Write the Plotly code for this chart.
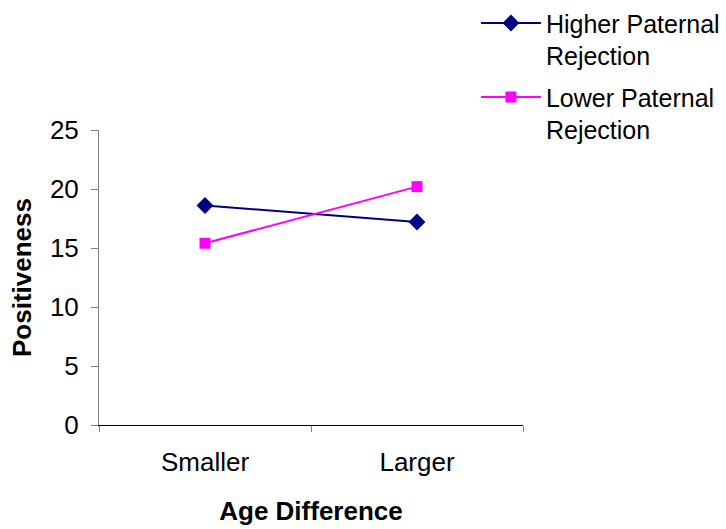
import plotly.graph_objects as go

categories = ["Smaller", "Larger"]
higher_values = [18.6, 17.2]
lower_values = [15.4, 20.2]
series_names = ["Higher Paternal<br>Rejection", "Lower Paternal<br>Rejection"]
y_ticks = [0, 5, 10, 15, 20, 25]

FONT = "Liberation Sans, Arial, sans-serif"

fig = go.Figure()
fig.add_trace(go.Scatter(
    x=categories, y=higher_values, name=series_names[0], mode="lines+markers",
    legendgroup="a",
    line=dict(color="#000080", width=2),
    marker=dict(symbol="diamond", size=13, color="#000080"),
))
fig.add_trace(go.Scatter(
    x=categories, y=lower_values, name=series_names[1], mode="lines+markers",
    legendgroup="b",
    line=dict(color="#FF00FF", width=2),
    marker=dict(symbol="square", size=11, color="#FF00FF"),
))

fig.update_layout(
    width=726, height=529,
    margin=dict(l=99, r=203, t=130, b=104, autoexpand=False),
    paper_bgcolor="white", plot_bgcolor="white",
    font=dict(family=FONT, size=26, color="black"),
    showlegend=True,
    legend=dict(
        x=0.889, xanchor="left", y=1.44, yanchor="top",
        valign="top",
        font=dict(size=25, family=FONT, color="black"),
        tracegroupgap=6, itemwidth=60,
        bgcolor="rgba(0,0,0,0)",
    ),
    xaxis=dict(
        type="category", range=[-0.5, 1.5],
        showline=True, linecolor="black", linewidth=1,
        ticks="outside", tickson="boundaries", ticklen=6, tickcolor="#808080",
        showgrid=False, zeroline=False,
        tickfont=dict(size=26), ticklabelstandoff=14,
        title=dict(text="<b>Age Difference</b>", font=dict(size=26), standoff=25),
    ),
    yaxis=dict(
        range=[0, 25], tickvals=y_ticks,
        showline=True, linecolor="#808080", linewidth=1,
        ticks="outside", ticklen=7, tickcolor="#808080",
        showgrid=False, zeroline=False,
        tickfont=dict(size=26), ticklabelstandoff=7,
        title=dict(text="<b>Positiveness</b>", font=dict(size=26), standoff=10),
    ),
)

fig.write_html("out.html")
